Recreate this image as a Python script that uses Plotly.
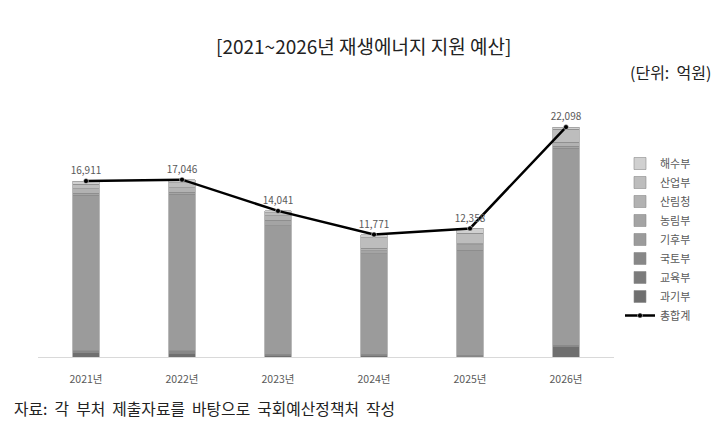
import plotly.graph_objects as go

years = ["2021년", "2022년", "2023년", "2024년", "2025년", "2026년"]

# stacked segments (억원), bottom to top
gwagi = [400, 380, 150, 150, 80, 1000]      # 과기부
gyoyuk = [80, 90, 50, 50, 40, 50]           # 교육부
gukto = [120, 130, 80, 50, 50, 80]          # 국토부
gihu = [14961, 15026, 12331, 9671, 10088, 18928]  # 기후부
nongrim = [200, 220, 550, 300, 550, 220]    # 농림부
sanrim = [400, 420, 400, 250, 100, 350]     # 산림청
saneop = [450, 480, 280, 1000, 1000, 1250]  # 산업부
haesu = [300, 300, 200, 300, 450, 220]      # 해수부
total = [16911, 17046, 14041, 11771, 12358, 22098]  # 총합계
total_labels = ["16,911", "17,046", "14,041", "11,771", "12,358", "22,098"]

series = [
    ("과기부", gwagi, "#6f6f6f", 8),
    ("교육부", gyoyuk, "#7b7b7b", 7),
    ("국토부", gukto, "#878787", 6),
    ("기후부", gihu, "#9b9b9b", 5),
    ("농림부", nongrim, "#a4a4a4", 4),
    ("산림청", sanrim, "#b2b2b2", 3),
    ("산업부", saneop, "#bdbdbd", 2),
    ("해수부", haesu, "#d0d0d0", 1),
]

FONT = "Noto Sans CJK KR"
W, H = 720, 424
l, r, t, b = 38, 106, 100, 67
pw, ph = W - l - r, H - t - b

fig = go.Figure()
for name, vals, color, rank in series:
    fig.add_trace(go.Bar(
        x=years, y=vals, name=name, legendrank=rank,
        marker=dict(color=color, line=dict(color="#8a8a8a", width=0.6)),
        hoverinfo="skip",
    ))

fig.add_trace(go.Scatter(
    x=years, y=total, name="총합계", legendrank=9,
    mode="lines+markers+text",
    line=dict(color="#000000", width=2.5),
    marker=dict(color="#000000", size=5, line=dict(color="#ffffff", width=0.5)),
    text=total_labels, textposition="top center",
    textfont=dict(size=10, color="#595959", family=FONT),
    cliponaxis=False,
))

fig.update_layout(
    width=W, height=H,
    margin=dict(l=l, r=r, t=t, b=b),
    paper_bgcolor="white", plot_bgcolor="white",
    barmode="stack", bargap=0.72,
    font=dict(family=FONT, color="#222222"),
    showlegend=True,
    legend=dict(
        x=(620 - l) / pw, xanchor="left", y=(H - b - 149) / ph, yanchor="top",
        traceorder="normal",
        font=dict(size=11, color="#595959", family=FONT),
        itemwidth=30, tracegroupgap=0,
        bgcolor="rgba(0,0,0,0)",
    ),
    xaxis=dict(
        showline=True, linecolor="#d9d9d9", linewidth=1,
        showgrid=False, ticks="", ticklabelstandoff=12,
        tickfont=dict(size=10.5, color="#595959", family=FONT),
        fixedrange=True,
    ),
    yaxis=dict(
        range=[0, 24700], showgrid=False, showticklabels=False,
        zeroline=False, showline=False, fixedrange=True,
    ),
    annotations=[
        dict(text="[2021~2026년 재생에너지 지원 예산]", xref="paper", yref="paper",
             x=(363 - l) / pw, y=(H - b - 45) / ph, xanchor="center", yanchor="middle",
             showarrow=False, font=dict(size=19, color="#222222", family=FONT)),
        dict(text="(단위:  억원)", xref="paper", yref="paper",
             x=(713 - l) / pw, y=(H - b - 72) / ph, xanchor="right", yanchor="middle",
             showarrow=False, font=dict(size=16, color="#222222", family=FONT)),
        dict(text="자료:  각  부처  제출자료를  바탕으로  국회예산정책처  작성", xref="paper", yref="paper",
             x=(12 - l) / pw, y=(H - b - 408) / ph, xanchor="left", yanchor="middle",
             showarrow=False, font=dict(size=15.8, color="#222222", family=FONT)),
    ],
)

fig.write_html("out.html")
